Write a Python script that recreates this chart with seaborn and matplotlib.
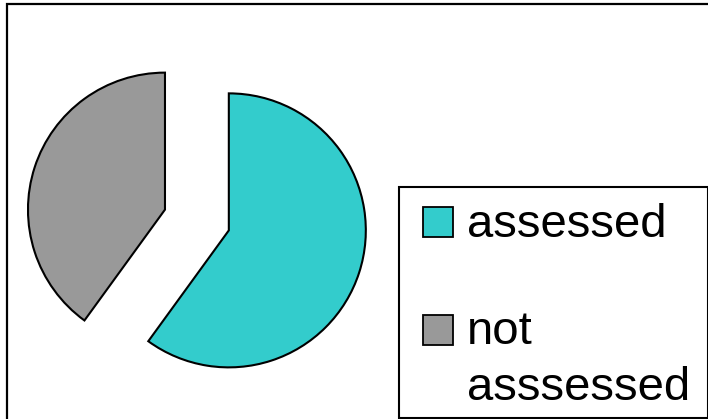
import matplotlib
matplotlib.use("Agg")
import matplotlib.pyplot as plt
from matplotlib.patches import Rectangle
from matplotlib.legend_handler import HandlerPatch
import seaborn as sns

# ---- data ----
labels = ["assessed", "not\nasssessed"]
values = [60, 40]
colors = ["#33CCCC", "#999999"]

sns.set_theme(style="white")
plt.rcParams["font.family"] = ["Liberation Sans", "DejaVu Sans"]
plt.rcParams["text.color"] = "black"

W, H, DPI = 708, 419, 100
fig = plt.figure(figsize=(W / DPI, H / DPI), dpi=DPI)
fig.patch.set_facecolor("white")

def px(x, y_top):
    return x / W, 1 - y_top / H

# pie axes: centre (197, 220) px, radius 137 px
R_PX = 137.0
L = 1.4
half = L * R_PX
cx, cy_top = 196.9, 220.0
ax = fig.add_axes([(cx - half) / W, (H - cy_top - half) / H, 2 * half / W, 2 * half / H])
pal = sns.color_palette(colors)
wedges, _ = ax.pie(values, colors=pal, startangle=90, counterclock=False,
                   explode=[0.245, 0.245],
                   wedgeprops=dict(edgecolor="black", linewidth=1.5))
ax.set_xlim(-L, L)
ax.set_ylim(-L, L)
ax.set_aspect("equal")
ax.axis("off")

FS = 34
LINESP = 1.346

def make_patch(legend, orig_handle, xdescent, ydescent, width, height, fontsize):
    n_extra = orig_handle.get_label().count("\n") if orig_handle.get_label() else 0
    shift = 0.693 * fontsize * n_extra
    return Rectangle((-xdescent, shift), width, height)

for w, lab in zip(wedges, labels):
    w.set_label(lab)

hx, hy = px(423, 202.7)
leg = fig.legend(handles=wedges, labels=labels, loc="upper left",
                 bbox_to_anchor=(hx, hy), bbox_transform=fig.transFigure,
                 frameon=False, borderpad=0, borderaxespad=0,
                 prop={"size": FS}, handlelength=0.631, handleheight=0.594,
                 handletextpad=0.307, labelspacing=1.35,
                 handler_map={w: HandlerPatch(patch_func=make_patch) for w in wedges})
for t in leg.get_texts():
    t.set_linespacing(LINESP)
    t.set_color("black")
for h in leg.legend_handles:
    h.set_edgecolor("black")
    h.set_linewidth(1.3)

# legend frame
x0, y0 = px(398.5, 417.5)
x1, y1 = px(707.5, 186.5)
fig.add_artist(Rectangle((x0, y0), x1 - x0, y1 - y0, fill=False, edgecolor="black",
                         linewidth=1.5, transform=fig.transFigure))
# outer chart frame (extends past right/bottom edges)
fx, fy = px(6.7, 4.0)
fig.add_artist(Rectangle((fx, -0.2), 1.2, fy + 0.2, fill=False, edgecolor="black",
                         linewidth=1.6, transform=fig.transFigure, clip_on=False))

fig.savefig("out.png", dpi=DPI)
